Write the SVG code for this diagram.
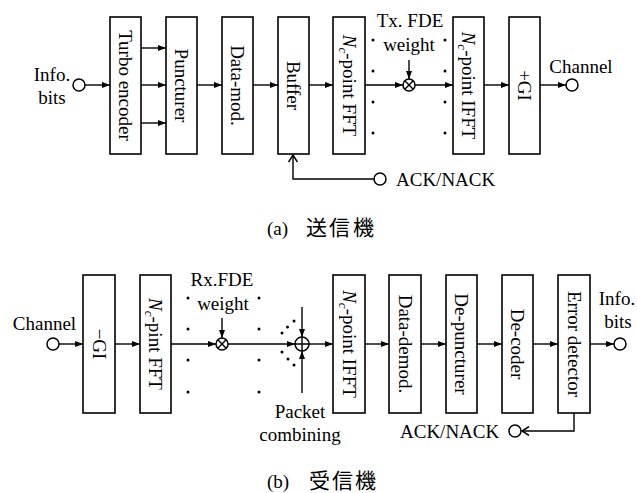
<svg xmlns="http://www.w3.org/2000/svg" width="637" height="493" viewBox="0 0 637 493">
<defs>
<marker id="ah" markerUnits="userSpaceOnUse" markerWidth="8" markerHeight="6" refX="8" refY="3" orient="auto"><path d="M0,0 L8,3 L0,6 z" fill="#000"/></marker>
<marker id="ch" markerUnits="userSpaceOnUse" markerWidth="9" markerHeight="10" refX="8" refY="5" orient="auto"><path d="M1,0.5 L8,5 L1,9.5" fill="none" stroke="#000" stroke-width="1.5"/></marker>
</defs>
<style>
.box{fill:#fff;stroke:#000;stroke-width:1.6}
.ln{fill:none;stroke:#000;stroke-width:1.4}
.ar{marker-end:url(#ah)}
.io{fill:#fff;stroke:#000;stroke-width:1.5}
.t{font-family:"Liberation Serif","Times New Roman",serif;font-size:19px;fill:#000}
.c{text-anchor:middle}
.cj{font-family:"Noto Sans CJK JP","Noto Sans CJK SC",sans-serif;font-size:21px;fill:#000}
.dot{fill:#000}
</style>
<rect width="637" height="493" fill="#fff"/>

<!-- Transmitter nodes -->
<g id="tx-turbo"><rect class="box" x="110" y="17" width="31" height="137"/><text class="t c" transform="translate(119,85.5) rotate(90)">Turbo encoder</text></g>
<g id="tx-punct"><rect class="box" x="166" y="17" width="31" height="137"/><text class="t c" transform="translate(175,85.5) rotate(90)">Puncturer</text></g>
<g id="tx-mod"><rect class="box" x="222" y="17" width="31" height="137"/><text class="t c" transform="translate(231,85.5) rotate(90)">Data-mod.</text></g>
<g id="tx-buf"><rect class="box" x="278" y="17" width="31" height="137"/><text class="t c" transform="translate(287,85.5) rotate(90)">Buffer</text></g>
<g id="tx-fft"><rect class="box" x="333" y="17" width="32" height="137"/><text class="t c" transform="translate(342.5,85.5) rotate(90)"><tspan font-style="italic">N</tspan><tspan font-size="13" font-style="italic" dy="4">c</tspan><tspan dy="-4">-point FFT</tspan></text></g>
<g id="tx-ifft"><rect class="box" x="453" y="17" width="31" height="137"/><text class="t c" transform="translate(462,85.5) rotate(90)"><tspan font-style="italic">N</tspan><tspan font-size="13" font-style="italic" dy="4">c</tspan><tspan dy="-4">-point IFFT</tspan></text></g>
<g id="tx-gi"><rect class="box" x="509" y="17" width="31" height="137"/><text class="t c" transform="translate(518,85.5) rotate(90)">+GI</text></g>
<g id="tx-mult"><circle class="io" cx="409" cy="85" r="6"/><path class="ln" d="M404.8,80.8 L413.2,89.2 M413.2,80.8 L404.8,89.2"/></g>
<g id="tx-in"><circle class="io" cx="79" cy="85" r="6"/><text class="t c" x="52" y="81">Info.</text><text class="t c" x="52" y="104">bits</text></g>
<g id="tx-out"><circle class="io" cx="572" cy="85" r="6"/><text class="t c" x="581" y="73">Channel</text></g>
<g id="tx-ack"><circle class="io" cx="380" cy="179" r="6"/><text class="t" x="396" y="186">ACK/NACK</text></g>
<g id="tx-labels"><text class="t c" x="410" y="27">Tx. FDE</text><text class="t c" x="409" y="51">weight</text></g>
<g id="tx-dots">
<circle class="dot" cx="373" cy="40" r="1.5"/><circle class="dot" cx="373" cy="71" r="1.5"/><circle class="dot" cx="373" cy="102" r="1.5"/><circle class="dot" cx="373" cy="133" r="1.5"/>
<circle class="dot" cx="445" cy="40" r="1.5"/><circle class="dot" cx="445" cy="71" r="1.5"/><circle class="dot" cx="445" cy="102" r="1.5"/><circle class="dot" cx="445" cy="133" r="1.5"/>
</g>

<!-- Receiver nodes -->
<g id="rx-gi"><rect class="box" x="83" y="275" width="32" height="138"/><text class="t c" transform="translate(92.5,344) rotate(90)">−GI</text></g>
<g id="rx-fft"><rect class="box" x="140" y="275" width="31" height="138"/><text class="t c" transform="translate(149,344) rotate(90)"><tspan font-style="italic">N</tspan><tspan font-size="13" font-style="italic" dy="4">c</tspan><tspan dy="-4">-pint FFT</tspan></text></g>
<g id="rx-ifft"><rect class="box" x="333" y="275" width="32" height="138"/><text class="t c" transform="translate(342.5,344) rotate(90)"><tspan font-style="italic">N</tspan><tspan font-size="13" font-style="italic" dy="4">c</tspan><tspan dy="-4">-point IFFT</tspan></text></g>
<g id="rx-demod"><rect class="box" x="389" y="275" width="32" height="138"/><text class="t c" transform="translate(398.5,344) rotate(90)">Data-demod.</text></g>
<g id="rx-depunct"><rect class="box" x="446" y="275" width="31" height="138"/><text class="t c" transform="translate(455,344) rotate(90)">De-puncturer</text></g>
<g id="rx-dec"><rect class="box" x="502" y="275" width="31" height="138"/><text class="t c" transform="translate(511,344) rotate(90)">De-coder</text></g>
<g id="rx-err"><rect class="box" x="558" y="275" width="32" height="138"/><text class="t c" transform="translate(567.5,344) rotate(90)">Error detector</text></g>
<g id="rx-mult"><circle class="io" cx="222" cy="344" r="6"/><path class="ln" d="M217.8,339.8 L226.2,348.2 M226.2,339.8 L217.8,348.2"/></g>
<g id="rx-sum"><circle class="io" cx="302" cy="344" r="7"/><path class="ln" d="M295,344 H309 M302,337 V351"/></g>
<g id="rx-in"><circle class="io" cx="53" cy="344" r="6"/><text class="t c" x="44.5" y="330">Channel</text></g>
<g id="rx-out"><circle class="io" cx="620" cy="344" r="6"/><text class="t c" x="617" y="305">Info.</text><text class="t c" x="618" y="328">bits</text></g>
<g id="rx-ack"><circle class="io" cx="515" cy="431" r="6"/><text class="t" x="400" y="438">ACK/NACK</text></g>
<g id="rx-labels"><text class="t c" x="222" y="286">Rx.FDE</text><text class="t c" x="223" y="310">weight</text><text class="t c" x="300" y="418">Packet</text><text class="t c" x="300" y="441">combining</text></g>
<g id="rx-dots">
<circle class="dot" cx="188" cy="298" r="1.5"/><circle class="dot" cx="188" cy="329" r="1.5"/><circle class="dot" cx="188" cy="360" r="1.5"/><circle class="dot" cx="188" cy="392" r="1.5"/>
<circle class="dot" cx="259" cy="298" r="1.5"/><circle class="dot" cx="259" cy="329" r="1.5"/><circle class="dot" cx="259" cy="360" r="1.5"/><circle class="dot" cx="259" cy="392" r="1.5"/>
<circle class="dot" cx="282" cy="333" r="1.5"/><circle class="dot" cx="287.5" cy="327" r="1.5"/><circle class="dot" cx="294" cy="321" r="1.5"/>
<circle class="dot" cx="282" cy="352" r="1.5"/><circle class="dot" cx="288" cy="359" r="1.5"/><circle class="dot" cx="294" cy="365" r="1.5"/>
</g>

<!-- Connectors -->
<g id="connectors">
<path class="ln ar" d="M85,85 H110"/>
<path class="ln ar" d="M141,48 H166"/>
<path class="ln ar" d="M141,85 H166"/>
<path class="ln ar" d="M141,123 H166"/>
<path class="ln ar" d="M197,85 H222"/>
<path class="ln ar" d="M253,85 H278"/>
<path class="ln ar" d="M309,85 H333"/>
<path class="ln ar" d="M365,85 H403"/>
<path class="ln ar" d="M415,85 H453"/>
<path class="ln ar" d="M409,60 V79"/>
<path class="ln ar" d="M484,85 H509"/>
<path class="ln ar" d="M540,85 H566"/>
<path class="ln" d="M374,179 H293 V155" marker-end="url(#ch)"/>

<path class="ln ar" d="M59,344 H83"/>
<path class="ln ar" d="M115,344 H140"/>
<path class="ln ar" d="M171,344 H216"/>
<path class="ln ar" d="M228,344 H295"/>
<path class="ln ar" d="M222,318 V338"/>
<path class="ln ar" d="M302,307 V337"/>
<path class="ln ar" d="M302,393 V351"/>
<path class="ln ar" d="M309,344 H333"/>
<path class="ln ar" d="M365,344 H389"/>
<path class="ln ar" d="M421,344 H446"/>
<path class="ln ar" d="M477,344 H502"/>
<path class="ln ar" d="M533,344 H558"/>
<path class="ln ar" d="M590,344 H614"/>
<path class="ln" d="M574,413 V431 H522" marker-end="url(#ch)"/>
</g>

<!-- Captions -->
<g id="caption-a"><text class="t" x="267" y="235">(a)</text><text class="cj" x="306" y="235">送</text><text class="cj" x="329" y="235">信</text><text class="cj" x="353" y="235">機</text></g>
<g id="caption-b"><text class="t" x="267" y="488">(b)</text><text class="cj" x="309" y="488">受</text><text class="cj" x="332" y="488">信</text><text class="cj" x="355" y="488">機</text></g>
</svg>
